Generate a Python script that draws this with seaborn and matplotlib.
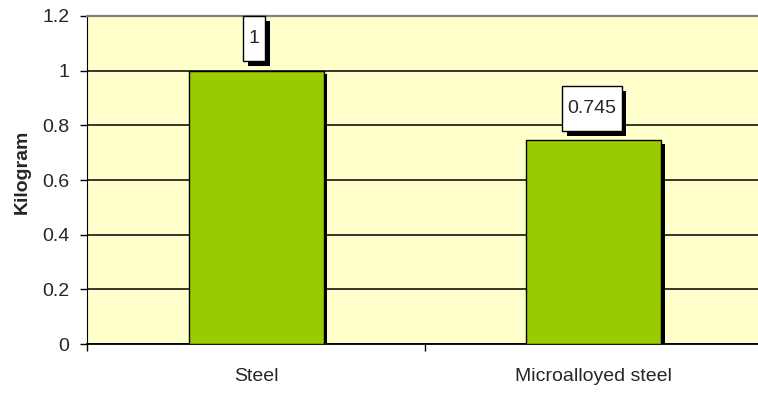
import matplotlib
matplotlib.use("Agg")
import matplotlib.pyplot as plt
import matplotlib.patheffects as pe
from matplotlib.path import Path
import pandas as pd
import seaborn as sns

materials = ["Steel", "Microalloyed steel"]
weight_kg = [1.0, 0.745]
y_ticks = [0, 0.2, 0.4, 0.6, 0.8, 1.0, 1.2]
y_tick_labels = ["0", "0.2", "0.4", "0.6", "0.8", "1", "1.2"]

BAR_GREEN = "#99CC00"
PLOT_BG = "#FFFFCC"

sns.set_style("ticks")
plt.rcParams["font.family"] = ["Liberation Sans", "DejaVu Sans"]


def tall_box(x0, y0, width, height, mutation_size):
    # label box: narrow side padding, tall top/bottom padding (Excel style)
    padx = 0.28 * mutation_size
    pady = 0.72 * mutation_size
    x0, y0 = x0 - padx, y0 - pady
    x1, y1 = x0 + width + 2 * padx, y0 + height + 2 * pady
    return Path([(x0, y0), (x1, y0), (x1, y1), (x0, y1), (x0, y0)],
                [Path.MOVETO, Path.LINETO, Path.LINETO, Path.LINETO, Path.CLOSEPOLY])


fig = plt.figure(figsize=(7.58, 3.96), dpi=100)
ax = fig.add_axes([0.1154, 0.1313, 0.8905, 0.8283])
ax.set_facecolor(PLOT_BG)

df = pd.DataFrame({"material": materials, "kg": weight_kg})
sns.barplot(data=df, x="material", y="kg", color=BAR_GREEN, saturation=1,
            width=0.4, edgecolor="black", linewidth=1, ax=ax, zorder=3)

shadow = [pe.SimplePatchShadow(offset=(2.5, -2.5), shadow_rgbFace="black", alpha=1),
          pe.Normal()]
for bar in ax.patches:
    bar.set_path_effects(shadow)

ax.set_xlim(-0.5, 1.5)
ax.set_ylim(0, 1.2)
ax.set_yticks(y_ticks)
ax.set_yticklabels(y_tick_labels)
ax.yaxis.grid(True, color="black", lw=1.1)
ax.set_axisbelow(True)

ax.set_xticks([-0.5, 0.5, 1.5], minor=True)
ax.tick_params(axis="x", which="major", length=0, pad=17, labelsize=14)
ax.tick_params(axis="x", which="minor", length=5, width=1, color="black", direction="out")
ax.tick_params(axis="y", length=5, width=1, color="black", direction="out", pad=8, labelsize=14)

ax.spines["right"].set_visible(False)
ax.spines["top"].set_color("#808080")
ax.spines["top"].set_linewidth(1.6)
ax.spines["left"].set_color("black")
ax.spines["bottom"].set_color("black")
ax.spines["bottom"].set_linewidth(1.3)

ax.set_xlabel("")
ax.set_ylabel("Kilogram", fontsize=14, fontweight="bold")
ax.yaxis.set_label_coords(-0.0963, 0.524)
ax.yaxis.label.set_va("center")

for i, v in enumerate(weight_kg):
    t = ax.annotate(f"{v:g}", xy=(i, v), xytext=(-1.5, 23), textcoords="offset points",
                    ha="center", va="center", fontsize=14, zorder=5,
                    annotation_clip=False,
                    bbox=dict(boxstyle=tall_box, fc="white", ec="black", lw=1))
    t.get_bbox_patch().set_path_effects(
        [pe.SimplePatchShadow(offset=(3.5, -3.5), shadow_rgbFace="black", alpha=1),
         pe.Normal()])

fig.savefig("out.png", dpi=100)
